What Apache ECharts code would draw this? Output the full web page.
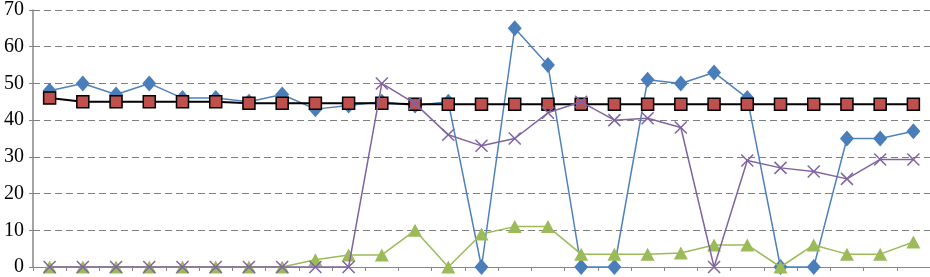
<!DOCTYPE html>
<html><head><meta charset="utf-8">
<script src="https://cdn.jsdelivr.net/npm/echarts@6/dist/echarts.min.js"></script>
<style>html,body{margin:0;padding:0;background:#fff}#c{width:930px;height:277px}</style>
</head><body><div id="c"></div>
<script>
var categories = ['1','2','3','4','5','6','7','8','9','10','11','12','13','14','15','16','17','18','19','20','21','22','23','24','25','26','27'];
var yTicks = [0,10,20,30,40,50,60,70];
var seriesBlue   = [48,50,47,50,46,46,45,47,43,44,45,44,45,0,65,55,0,0,51,50,53,46,0,0,35,35,37];
var seriesRed    = [46,45,45,45,45,45,44.6,44.6,44.6,44.6,44.6,44.3,44.3,44.3,44.3,44.3,44.3,44.3,44.3,44.3,44.3,44.3,44.3,44.3,44.3,44.3,44.3];
var seriesGreen  = [0,0,0,0,0,0,0,0,2,3.3,3.3,10,0,9,11,11,3.5,3.5,3.5,3.8,6,6,0,6,3.5,3.5,6.8];
var seriesPurple = [0,0,0,0,0,0,0,0,0,0,50,44.5,36,33,35,42,45,40,40.5,38,0,29,27,26,24,29.3,29.3];

var chart = echarts.init(document.getElementById('c'));
chart.setOption({
  animation:false,
  grid:{left:33,right:0,top:7,bottom:10,containLabel:false},
  xAxis:{type:'category',data:categories,boundaryGap:true,
    axisLine:{lineStyle:{color:'#868686',width:1}},
    axisTick:{show:true,length:4,lineStyle:{color:'#868686'}},
    axisLabel:{show:false},splitLine:{show:false}},
  yAxis:{type:'value',min:yTicks[0],max:yTicks[yTicks.length-1],interval:10,
    axisLine:{show:true,lineStyle:{color:'#868686',width:1.5}},
    axisTick:{show:true,length:4,lineStyle:{color:'#868686'}},
    axisLabel:{fontFamily:'Liberation Serif',fontSize:20,color:'#000',margin:9},
    splitLine:{show:true,lineStyle:{color:'#7f7f7f',width:1,type:[7,4]}}},
  series:[
    {type:'line',data:seriesBlue,symbol:'diamond',symbolSize:[14,16],
     lineStyle:{color:'#4F81BD',width:1.5},itemStyle:{color:'#4A7EBB',borderColor:'#4A7EBB',borderWidth:0},z:2},
    {type:'line',data:seriesRed,symbol:'rect',symbolSize:12,
     lineStyle:{color:'#000',width:2},itemStyle:{color:'#C0504D',borderColor:'#000',borderWidth:1.5},z:3},
    {type:'line',data:seriesGreen,symbol:'triangle',symbolSize:[14,13],
     lineStyle:{color:'#9BBB59',width:1.5},itemStyle:{color:'#9BBB59',borderWidth:0},z:4},
    {type:'line',data:seriesPurple,symbol:'path://M0,0 L10,10 M10,0 L0,10',symbolSize:12,
     lineStyle:{color:'#8064A2',width:1.5},itemStyle:{color:'none',borderColor:'#8064A2',borderWidth:1.5},z:5}
  ]
});
</script></body></html>
